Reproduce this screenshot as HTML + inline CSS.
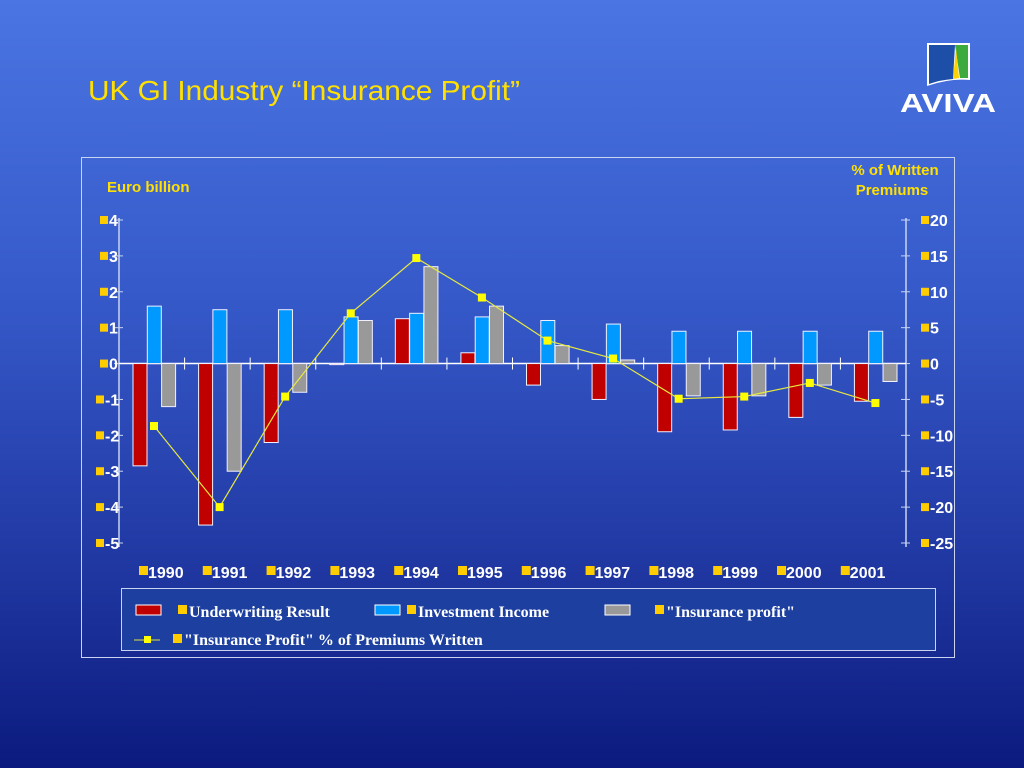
<!DOCTYPE html>
<html><head><meta charset="utf-8"><style>
body{margin:0;width:1024px;height:768px;overflow:hidden;background:linear-gradient(#4a75e2 0%,#3558c8 40%,#1f36a0 75%,#0b1a7e 100%);font-family:"Liberation Sans",sans-serif;}
svg{position:absolute;left:0;top:0}
</style></head><body>
<svg width="1024" height="768">
<text x="88" y="100" fill="#ffe000" font-size="28" textLength="432" lengthAdjust="spacingAndGlyphs">UK GI Industry “Insurance Profit”</text>
<g>
<path d="M927 43 L970 43 L970 80 Q950 78 927 86 Z" fill="#ffffff"/>
<path d="M929 45 L955 45 L953 79 Q940 80 929 84 Z" fill="#1d4fa8"/>
<path d="M955 45 L968 45 L968 78 L960 78 Z" fill="#3caa3c"/>
<path d="M956 48 L959 78 L953 79 Z" fill="#ffd200"/>
<text x="948" y="112" fill="#fff" font-size="26" font-weight="bold" text-anchor="middle" textLength="96" lengthAdjust="spacingAndGlyphs">AVIVA</text>
</g>
<rect x="81.5" y="157.5" width="873" height="500" fill="none" stroke="#c8d4f0" stroke-width="1"/>
<text x="107" y="192" fill="#ffe000" font-size="15" font-weight="bold">Euro billion</text>
<text x="895" y="175" fill="#ffe000" font-size="15" font-weight="bold" text-anchor="middle">% of Written</text>
<text x="892" y="195" fill="#ffe000" font-size="15" font-weight="bold" text-anchor="middle">Premiums</text>
<g id="plot"></g>
<rect x="121.5" y="588.5" width="814" height="62" fill="#1c3fa0" stroke="#c8d4f0"/>
<g><rect x="136" y="605" width="25" height="10" fill="#c00000" stroke="#fff"/><rect x="178" y="605" width="9" height="9" fill="#ffcc00"/><text x="189" y="617" fill="#fff" font-family="Liberation Serif,serif" font-weight="bold" font-size="16">Underwriting Result</text></g>
<g><rect x="375" y="605" width="25" height="10" fill="#0099ff" stroke="#fff"/><rect x="407" y="605" width="9" height="9" fill="#ffcc00"/><text x="418" y="617" fill="#fff" font-family="Liberation Serif,serif" font-weight="bold" font-size="16">Investment Income</text></g>
<g><rect x="605" y="605" width="25" height="10" fill="#999" stroke="#fff"/><rect x="655" y="605" width="9" height="9" fill="#ffcc00"/><text x="666" y="617" fill="#fff" font-family="Liberation Serif,serif" font-weight="bold" font-size="16">"Insurance profit"</text></g>
<g><line x1="134" y1="640" x2="160" y2="640" stroke="#e0e040"/><rect x="144" y="636" width="7" height="7" fill="#ffff00"/><rect x="173" y="634" width="9" height="9" fill="#ffcc00"/><text x="184" y="645" fill="#fff" font-family="Liberation Serif,serif" font-weight="bold" font-size="16">"Insurance Profit"  % of Premiums Written</text></g>
</svg>
<script>
const categories=["1990","1991","1992","1993","1994","1995","1996","1997","1998","1999","2000","2001"];
const underwriting=[-2.85,-4.5,-2.2,-0.03,1.25,0.3,-0.6,-1.0,-1.9,-1.85,-1.5,-1.05];
const investment=[1.6,1.5,1.5,1.3,1.4,1.3,1.2,1.1,0.9,0.9,0.9,0.9];
const profit=[-1.2,-3.0,-0.8,1.2,2.7,1.6,0.5,0.1,-0.9,-0.9,-0.6,-0.5];
const pct=[-8.7,-20,-4.6,7,14.7,9.2,3.2,0.7,-4.9,-4.6,-2.7,-5.5];
const leftTicks=[4,3,2,1,0,-1,-2,-3,-4,-5];
const rightTicks=[20,15,10,5,0,-5,-10,-15,-20,-25];
const NS="http://www.w3.org/2000/svg";
const g=document.getElementById('plot');
const X0=119,X1=906,Y4=220,Ym5=543;
const cw=(X1-X0)/categories.length;
function y(v){return Y4+(4-v)*(Ym5-Y4)/9;}
function yr(v){return y(v/5);}
function mk(t,a){const e=document.createElementNS(NS,t);for(const k in a)e.setAttribute(k,a[k]);g.appendChild(e);return e;}
let e=mk('line',{x1:X0,y1:y(4)-2,x2:X0,y2:y(-5)+4,stroke:'#c8d4f0','stroke-width':1.5});

e=mk('line',{x1:X1,y1:y(4)-2,x2:X1,y2:y(-5)+4,stroke:'#c8d4f0','stroke-width':1.5});

leftTicks.forEach(v=>{
 mk('line',{x1:X0-5,y1:y(v),x2:X0+4,y2:y(v),stroke:'#c8d4f0'});
 mk('rect',{x:v<0?96:100,y:y(v)-4,width:8,height:8,fill:'#ffcc00'});
 const t=mk('text',{x:v<0?105:109,y:y(v)+6,fill:'#fff','font-size':16,'font-weight':'bold'});t.textContent=v;
 
});
rightTicks.forEach(v=>{
 mk('line',{x1:X1-5,y1:yr(v),x2:X1+4,y2:yr(v),stroke:'#c8d4f0'});
 mk('rect',{x:921,y:yr(v)-4,width:8,height:8,fill:'#ffcc00'});
 const t=mk('text',{x:930,y:yr(v)+6,fill:'#fff','font-size':16,'font-weight':'bold'});t.textContent=v;
 
});
e=mk('line',{x1:X0,y1:y(0),x2:X1,y2:y(0),stroke:'#fff','stroke-width':1.5});

categories.forEach((c,i)=>{
 const cx=X0+i*cw;
 if(i>0)mk('line',{x1:cx,y1:y(0)-6,x2:cx,y2:y(0)+6,stroke:'#fff'});
 mk('rect',{x:139+i*63.8,y:566,width:9,height:9,fill:'#ffcc00'});
 const t=mk('text',{x:148+i*63.8,y:578,fill:'#fff','font-size':16,'font-weight':'bold'});t.textContent=c;
 
 [[underwriting,'#c00000','bar-underwriting'],[investment,'#0099ff','bar-investment'],[profit,'#999999','bar-insurance-profit']].forEach((s,j)=>{
  const v=s[0][i],bx=cx+14+j*14.3;
  const r=mk('rect',{x:bx,y:Math.min(y(v),y(0)),width:14,height:Math.max(Math.abs(y(v)-y(0)),1),fill:s[1],stroke:'#f0f0ff','stroke-width':1});
  
 });
});
const pts=pct.map((v,i)=>[X0+i*cw+35,yr(v)]);
e=mk('polyline',{points:pts.map(p=>p.join(',')).join(' '),fill:'none',stroke:'#e8e840','stroke-width':1.2});

pts.forEach(p=>{const m=mk('rect',{x:p[0]-4,y:p[1]-4,width:8,height:8,fill:'#ffff00'});
 });
</script>
</body></html>
